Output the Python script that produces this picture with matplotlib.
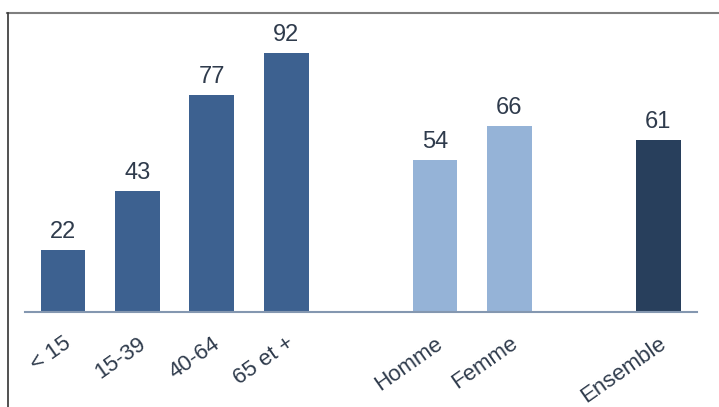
import matplotlib.pyplot as plt
from matplotlib.lines import Line2D

labels = ['< 15', '15-39', '40-64', '65 et +', 'Homme', 'Femme', 'Ensemble']
values = [22, 43, 77, 92, 54, 66, 61]
slots = [0, 1, 2, 3, 5, 6, 8]
colors = ['#3d6190', '#3d6190', '#3d6190', '#3d6190', '#95b3d7', '#95b3d7', '#283f5c']

plt.rcParams['font.family'] = ['Liberation Sans', 'DejaVu Sans']
text_col = '#2f3b4c'

W, H = 719, 407
fig = plt.figure(figsize=(W / 100, H / 100), dpi=100)
ax = fig.add_axes([25 / W, 95 / H, 672 / W, 281.5 / H])

ax.bar(slots, values, width=0.6, color=colors)
for x, v in zip(slots, values):
    ax.text(x, v + 2.5, str(v), ha='center', va='bottom', fontsize=17, color=text_col)

ax.set_xlim(-0.51, 8.52)
ax.set_ylim(0, 100)
for s in ['top', 'right', 'left']:
    ax.spines[s].set_visible(False)
ax.spines['bottom'].set_color('#8497b0')
ax.spines['bottom'].set_linewidth(1.5)
ax.set_yticks([])
ax.set_xticks(slots)
ax.set_xticklabels(labels, rotation=35, ha='right', rotation_mode='anchor',
                   fontsize=16, color=text_col)
ax.tick_params(axis='x', length=0, pad=15)

# frame lines of the original picture
fig.add_artist(Line2D([7 / W, 1], [1 - 13 / H, 1 - 13 / H], color='#7f7f7f', lw=1.5))
fig.add_artist(Line2D([8 / W, 8 / W], [0, 1 - 13 / H], color='#333333', lw=1.2))

fig.savefig('out.png', dpi=100)
